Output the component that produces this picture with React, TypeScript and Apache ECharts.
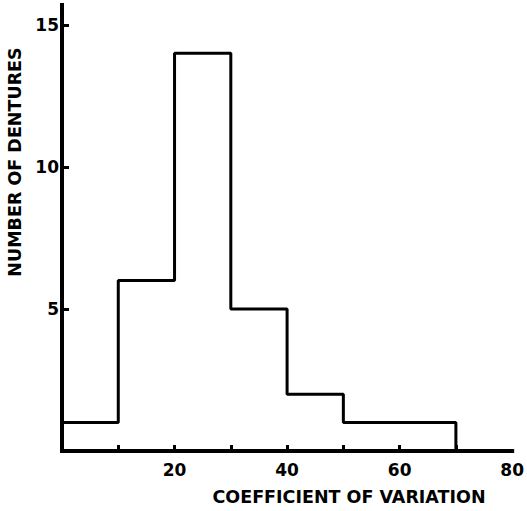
import React, { useEffect, useRef } from "react";
import * as echarts from "echarts";

const binEdges = [0, 10, 20, 30, 40, 50, 60, 70];
const counts = [1, 6, 14, 5, 2, 1, 1];
const xTickValues = [10, 20, 30, 40, 50, 60, 70];
const xLabelValues = [20, 40, 60, 80];
const yTickValues = [5, 10, 15];
const xTitle = "COEFFICIENT OF VARIATION";
const yTitle = "NUMBER OF DENTURES";

export default function App() {
  const ref = useRef<HTMLDivElement>(null);
  useEffect(() => {
    if (!ref.current) return;
    const chart = echarts.init(ref.current, undefined, { renderer: "svg" });
    const stepData = binEdges.map((e, i) => [e, i < counts.length ? counts[i] : 0]);
    chart.setOption({
      animation: false,
      backgroundColor: "#ffffff",
      grid: { left: 62, right: 14, top: 5, bottom: 60 },
      xAxis: {
        type: "value",
        min: 0,
        max: 80,
        splitLine: { show: false },
        axisLine: { show: true, onZero: false, lineStyle: { color: "#000", width: 4, cap: "square" } },
        axisTick: { show: true, inside: true, length: 6, customValues: xTickValues, lineStyle: { color: "#000", width: 3 } },
        axisLabel: {
          customValues: xLabelValues,
          margin: 10,
          color: "#000",
          fontFamily: "DejaVu Sans",
          fontWeight: "bold",
          fontSize: 17,
        },
      },
      yAxis: {
        type: "value",
        min: 0,
        max: 15.7,
        splitLine: { show: false },
        axisLine: { show: true, onZero: false, lineStyle: { color: "#000", width: 4, cap: "square" } },
        axisTick: { show: true, inside: true, length: 7, customValues: yTickValues, lineStyle: { color: "#000", width: 3 } },
        axisLabel: {
          customValues: yTickValues,
          margin: 3,
          color: "#000",
          fontFamily: "DejaVu Sans",
          fontWeight: "bold",
          fontSize: 17,
        },
      },
      series: [
        {
          type: "line",
          step: "end",
          data: stepData,
          symbol: "none",
          lineStyle: { color: "#000", width: 3 },
          clip: false,
        },
      ],
      graphic: [
        {
          type: "text",
          x: 349,
          y: 497,
          style: {
            text: xTitle,
            fill: "#000",
            font: "bold 17.5px 'DejaVu Sans'",
            textAlign: "center",
            textVerticalAlign: "middle",
          },
        },
        {
          type: "text",
          x: 15,
          y: 162,
          rotation: Math.PI / 2,
          style: {
            text: yTitle,
            fill: "#000",
            font: "bold 17.5px 'DejaVu Sans'",
            textAlign: "center",
            textVerticalAlign: "middle",
          },
        },
      ],
    });
    return () => chart.dispose();
  }, []);
  return <div ref={ref} style={{ position: "fixed", left: 0, top: 0, width: 527, height: 511 }} />;
}
